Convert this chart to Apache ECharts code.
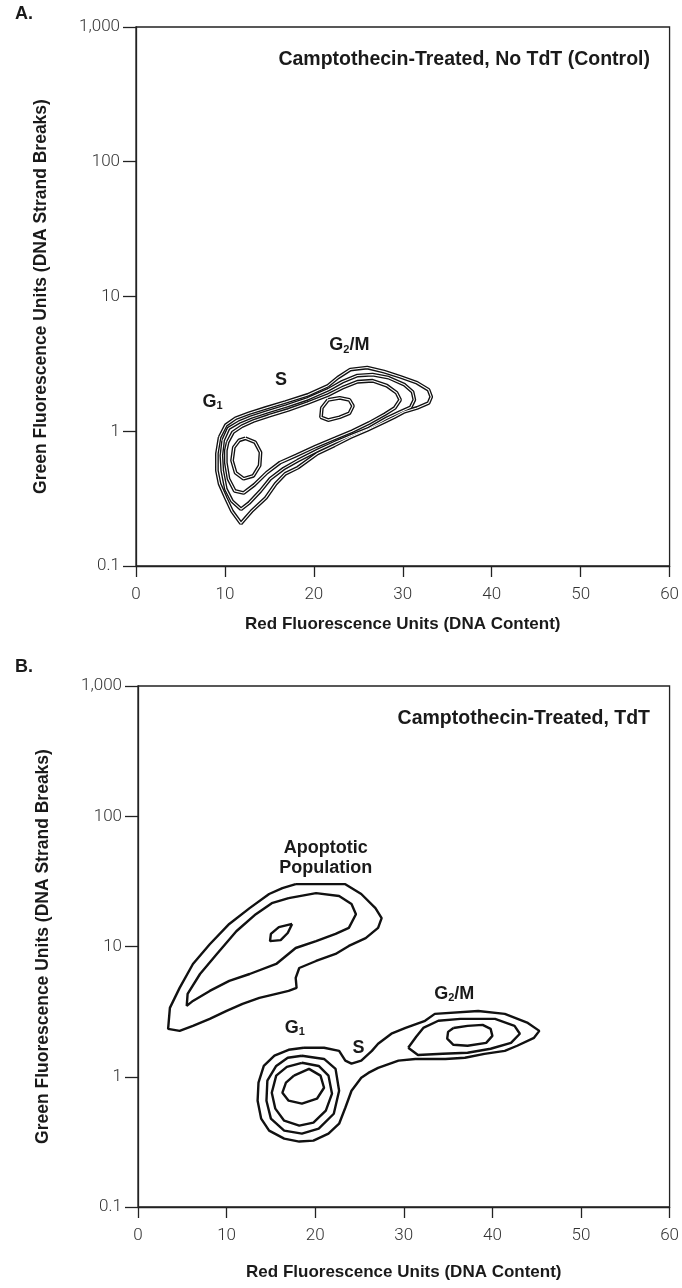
<!DOCTYPE html>
<html>
<head>
<meta charset="utf-8">
<script src="https://cdn.jsdelivr.net/npm/echarts@6/dist/echarts.min.js"></script>
<style>
html,body{margin:0;padding:0;background:#fff;}
#chart{width:682px;height:1288px;}
</style>
</head>
<body>
<div id="chart"></div>
<script>
// ---------- axes / ticks ----------
const xTicks = [0, 10, 20, 30, 40, 50, 60];
const yTickValues = [0.1, 1, 10, 100, 1000];
const yTickLabels = ['0.1', '1', '10', '100', '1,000'];
const xAxisTitle = 'Red Fluorescence Units (DNA Content)';
const yAxisTitle = 'Green Fluorescence Units (DNA Strand Breaks)';
const panelLetters = ['A.', 'B.'];
const panelTitles = ['Camptothecin-Treated, No TdT (Control)', 'Camptothecin-Treated, TdT'];

// ---------- Panel A contours [red, green] ----------
const aOuter = [[9.4,0.902],[10.1,1.11],[11.2,1.25],[12.7,1.36],[14.6,1.49],[16.8,1.65],[19.3,1.86],[21.6,2.18],[22.7,2.50],[24.1,2.87],[26.0,2.97],[27.9,2.77],[29.7,2.54],[31.6,2.29],[32.9,2.03],[33.2,1.80],[32.9,1.62],[31.6,1.49],[30.1,1.39],[29.0,1.27],[27.9,1.17],[26.0,1.02],[24.1,0.902],[22.3,0.785],[20.4,0.684],[18.2,0.537],[16.8,0.484],[15.7,0.407],[14.6,0.320],[13.0,0.255],[12.3,0.226],[11.8,0.207],[10.8,0.255],[10.1,0.320],[9.4,0.407],[9.1,0.510],[9.1,0.684],[9.4,0.902]];
const aLevel2 = [[9.8,0.856],[10.4,1.05],[11.6,1.17],[12.9,1.27],[14.7,1.39],[16.9,1.54],[19.3,1.74],[21.6,2.03],[23.2,2.33],[24.9,2.59],[26.6,2.63],[28.4,2.50],[30.2,2.21],[31.1,1.96],[31.3,1.71],[30.9,1.51],[29.7,1.39],[28.2,1.25],[26.2,1.05],[24.3,0.933],[22.4,0.827],[20.4,0.720],[18.2,0.606],[16.6,0.528],[15.1,0.444],[14.0,0.361],[12.7,0.293],[11.8,0.264],[10.8,0.303],[10.1,0.373],[9.7,0.510],[9.6,0.661],[9.8,0.856]];
const aLevel3 = [[10.3,0.827],[10.9,0.983],[11.9,1.09],[13.2,1.19],[14.9,1.30],[17.1,1.44],[19.3,1.62],[21.6,1.86],[23.2,2.10],[24.9,2.33],[26.6,2.37],[28.2,2.18],[29.3,1.93],[29.7,1.71],[29.1,1.49],[28.0,1.34],[26.2,1.15],[24.3,1.00],[22.4,0.886],[20.2,0.772],[18.0,0.661],[16.2,0.585],[14.7,0.492],[13.3,0.400],[12.1,0.348],[11.1,0.361],[10.4,0.444],[10.1,0.585],[10.1,0.720],[10.3,0.827]];
const aG1Peak = [[12.3,0.886],[13.4,0.827],[14.0,0.696],[13.9,0.556],[13.2,0.467],[12.1,0.444],[11.2,0.492],[10.8,0.606],[11.0,0.759],[11.6,0.856],[12.3,0.886]];
const aG2Peak = [[21.6,1.71],[22.9,1.77],[24.0,1.71],[24.4,1.54],[24.0,1.36],[22.9,1.27],[21.6,1.21],[20.8,1.27],[20.9,1.49],[21.6,1.71]];

// ---------- Panel B contours [red, green] ----------
const bApoOuter = [[17.8,30.1],[20.7,30.1],[23.4,30.1],[25.2,25.3],[26.8,19.7],[27.5,16.5],[27.1,13.9],[25.7,11.6],[23.8,10.1],[22.3,8.77],[20.1,7.74],[18.2,6.84],[17.8,5.74],[17.9,4.81],[17.0,4.56],[15.6,4.33],[13.7,4.03],[11.8,3.63],[10.0,3.20],[8.1,2.78],[6.2,2.46],[4.7,2.25],[3.4,2.33],[3.6,3.38],[4.7,4.81],[6.2,7.34],[8.1,10.4],[10.3,14.9],[12.6,19.7],[14.8,25.3],[16.3,28.1],[17.8,30.1]];
const bApoInner = [[17.0,23.5],[20.1,25.7],[22.7,24.4],[24.1,21.2],[24.6,17.7],[23.8,13.9],[22.3,12.5],[20.1,11.0],[17.8,9.74],[15.6,7.34],[12.6,6.15],[10.3,5.44],[8.1,4.56],[6.2,3.82],[5.5,3.50],[5.6,4.33],[7.0,6.15],[8.9,8.77],[11.1,13.1],[13.3,17.7],[15.1,21.5],[17.0,23.5]];
const bApoPeak = [[17.4,14.9],[15.9,14.1],[15.0,12.5],[14.9,11.0],[16.1,11.2],[16.9,12.7],[17.4,14.9]];
const bCycleOuter = [[18.7,1.67],[21.0,1.67],[22.7,1.58],[23.4,1.33],[24.1,1.26],[25.2,1.33],[26.4,1.58],[27.1,1.79],[28.6,2.14],[30.2,2.37],[32.4,2.69],[33.5,3.04],[38.4,3.20],[41.4,3.04],[44.0,2.59],[45.3,2.25],[44.7,1.99],[42.8,1.73],[41.4,1.58],[39.1,1.50],[36.9,1.40],[34.7,1.37],[31.3,1.37],[29.4,1.33],[27.1,1.17],[26.0,1.07],[25.2,0.983],[24.1,0.781],[23.4,0.578],[22.7,0.436],[21.5,0.366],[19.8,0.323],[18.2,0.318],[16.5,0.335],[14.8,0.386],[13.9,0.477],[13.5,0.655],[13.6,0.900],[14.2,1.21],[15.4,1.45],[17.0,1.61],[18.7,1.67]];
const bG1Ring2 = [[18.5,1.45],[21.0,1.37],[22.3,1.15],[22.7,0.781],[22.1,0.520],[20.4,0.400],[18.5,0.366],[16.5,0.386],[15.0,0.477],[14.5,0.655],[14.6,0.932],[15.6,1.21],[16.9,1.40],[18.5,1.45]];
const bG1Ring3 = [[18.5,1.28],[20.4,1.21],[21.5,1.02],[21.9,0.741],[21.2,0.549],[19.8,0.444],[18.2,0.421],[16.5,0.460],[15.5,0.569],[15.1,0.754],[15.6,1.02],[16.8,1.19],[18.5,1.28]];
const bG1Peak = [[17.6,1.02],[19.3,1.15],[20.6,1.02],[21.0,0.823],[20.2,0.678],[18.5,0.621],[17.0,0.655],[16.3,0.754],[16.7,0.900],[17.6,1.02]];
const bG2Ring2 = [[30.5,1.67],[31.4,2.03],[32.2,2.37],[33.9,2.69],[36.4,2.78],[40.3,2.78],[42.5,2.46],[43.1,2.14],[42.1,1.82],[39.8,1.64],[37.2,1.53],[34.4,1.50],[31.6,1.47],[30.5,1.67]];
const bG2Peak = [[35.6,2.37],[37.2,2.46],[38.9,2.50],[39.8,2.33],[40.0,2.06],[39.3,1.82],[37.2,1.73],[35.6,1.76],[34.9,1.96],[35.0,2.21],[35.6,2.37]];

const contoursA = [aOuter, aLevel2, aLevel3, aG1Peak, aG2Peak];
const contoursB = [bApoOuter, bApoInner, bApoPeak, bCycleOuter, bG1Ring2, bG1Ring3, bG1Peak, bG2Ring2, bG2Peak];

// ---------- annotations [red, green, text] ----------
const annotA = [[8.6, 1.65, 'G1'], [16.3, 2.41, 'S'], [24.0, 4.34, 'G2M']];
const annotB = [[21.2, 47.7, 'APO'], [17.7, 2.37, 'G1'], [24.9, 1.67, 'S'], [35.7, 4.33, 'G2M']];

const LABEL_FONT = '"Liberation Sans", Arial, sans-serif';
const TICK_FONT = 'Roboto, "Liberation Sans", sans-serif';
const INK = '#1a1a1a';

function labelText(code) {
  if (code === 'G1') return '{b|G}{s|1}';
  if (code === 'G2M') return '{b|G}{s|2}{b|/M}';
  if (code === 'APO') return '{b|Apoptotic}\n{b|Population}';
  return '{b|' + code + '}';
}

const grids = [
  { left: 136, right: 6, top: 27, height: 539 },
  { left: 138, right: 9, top: 686, height: 521 }
];
const nameGaps = [50, 57];

function xAxisFor(i) {
  return {
    type: 'value', gridIndex: i, min: xTicks[0], max: xTicks[xTicks.length - 1], interval: 10,
    axisLine: { show: true, lineStyle: { color: '#222', width: 1.3 } },
    axisTick: { show: true, inside: false, length: 11, lineStyle: { color: '#222', width: 1.3 } },
    splitLine: { show: false },
    axisLabel: { fontSize: 17, color: '#333', margin: 20, fontFamily: TICK_FONT, fontWeight: 300 },
    name: xAxisTitle, nameLocation: 'middle', nameGap: nameGaps[i],
    nameTextStyle: { fontSize: 17, fontWeight: 'bold', color: INK, fontFamily: LABEL_FONT }
  };
}
function yAxisFor(i) {
  return {
    type: 'log', logBase: 10, gridIndex: i, min: yTickValues[0], max: yTickValues[yTickValues.length - 1],
    axisLine: { show: true, lineStyle: { color: '#222', width: 1.3 } },
    axisTick: { show: true, inside: false, length: 13, lineStyle: { color: '#222', width: 1.3 } },
    minorTick: { show: false },
    splitLine: { show: false },
    axisLabel: {
      fontSize: 17, color: '#333', margin: 16, fontFamily: TICK_FONT, fontWeight: 300,
      formatter: function (v) {
        const k = Math.round(Math.log10(v)) - Math.round(Math.log10(yTickValues[0]));
        return yTickLabels[k] !== undefined ? yTickLabels[k] : '';
      }
    },
    name: yAxisTitle, nameLocation: 'middle', nameGap: 86,
    nameTextStyle: { fontSize: 17.5, fontWeight: 'bold', color: INK, fontFamily: LABEL_FONT }
  };
}

const series = [];
[contoursA, contoursB].forEach(function (set, gi) {
  set.forEach(function (pts) {
    series.push({
      type: 'line', xAxisIndex: gi, yAxisIndex: gi, data: pts,
      symbol: 'none', smooth: false, silent: true, animation: false, z: 2,
      lineStyle: { color: '#111', width: gi === 0 ? 3.8 : 2.4 }
    });
    if (gi === 0) {
      series.push({
        type: 'line', xAxisIndex: gi, yAxisIndex: gi, data: pts,
        symbol: 'none', smooth: false, silent: true, animation: false, z: 3,
        lineStyle: { color: '#fff', width: 1.1 }
      });
    }
  });
});
[annotA, annotB].forEach(function (set, gi) {
  series.push({
    type: 'scatter', xAxisIndex: gi, yAxisIndex: gi, symbolSize: 0, silent: true, animation: false, z: 5,
    itemStyle: { opacity: 1, color: INK },
    data: set.map(function (a) { return { value: [a[0], a[1]], code: a[2] }; }),
    label: {
      show: true, position: 'inside', align: 'center', verticalAlign: 'middle',
      color: INK, textBorderWidth: 0, opacity: 1,
      formatter: function (p) { return labelText(p.data.code); },
      rich: {
        b: { fontSize: 18, fontWeight: 'bold', color: INK, textBorderWidth: 0, fontFamily: LABEL_FONT, lineHeight: 20 },
        s: { fontSize: 11, fontWeight: 'bold', color: INK, textBorderWidth: 0, fontFamily: LABEL_FONT, lineHeight: 20, verticalAlign: 'bottom', padding: [10, 0, 0, 0] }
      }
    }
  });
});

const chart = echarts.init(document.getElementById('chart'), null, { renderer: 'canvas' });
chart.setOption({
  backgroundColor: '#fff',
  animation: false,
  title: [
    { text: panelLetters[0], left: 10, top: 0, textStyle: { fontSize: 18, fontWeight: 'bold', color: INK, fontFamily: LABEL_FONT } },
    { text: panelLetters[1], left: 10, top: 653, textStyle: { fontSize: 18, fontWeight: 'bold', color: INK, fontFamily: LABEL_FONT } },
    { text: panelTitles[0], right: 27, top: 45, textStyle: { fontSize: 19.5, fontWeight: 'bold', color: INK, fontFamily: LABEL_FONT } },
    { text: panelTitles[1], right: 27, top: 704, textStyle: { fontSize: 19.5, fontWeight: 'bold', color: INK, fontFamily: LABEL_FONT } }
  ],
  grid: grids.map(function (g) { return Object.assign({ show: true, borderColor: '#222', borderWidth: 1.3, backgroundColor: 'transparent', containLabel: false }, g); }),
  xAxis: [xAxisFor(0), xAxisFor(1)],
  yAxis: [yAxisFor(0), yAxisFor(1)],
  series: series
});
</script>
</body>
</html>
